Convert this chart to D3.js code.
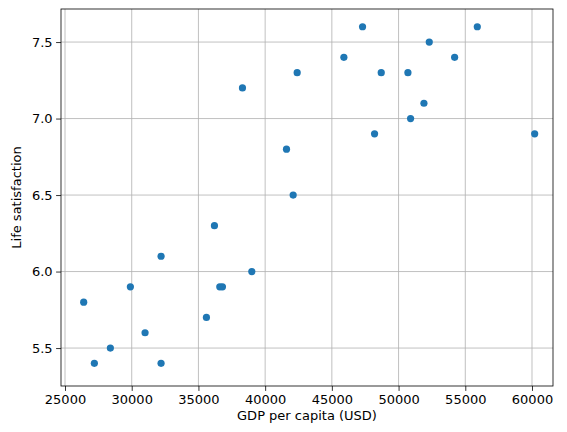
<!DOCTYPE html>
<html><head><meta charset="utf-8">
<script src="https://cdn.jsdelivr.net/npm/d3@7"></script>
<style>body{margin:0;background:#fff}svg{font-family:"DejaVu Sans",sans-serif}</style>
</head><body><svg id="c" width="567" height="432"></svg>
<script>
const gdp=[26400,27200,28400,29900,31000,32200,32200,35600,36200,36600,36800,38300,39000,41600,42100,42400,45900,47300,48200,48700,50700,50900,51900,52300,54200,55900,60200];
const life=[5.8,5.4,5.5,5.9,5.6,5.4,6.1,5.7,6.3,5.9,5.9,7.2,6.0,6.8,6.5,7.3,7.4,7.6,6.9,7.3,7.3,7.0,7.1,7.5,7.4,7.6,6.9];
const xTicks=[25000,30000,35000,40000,45000,50000,55000,60000];
const yTicks=[5.5,6.0,6.5,7.0,7.5];
const L=61,R=553,T=9,B=386;
const svg=d3.select("#c");
const x=d3.scaleLinear().domain([24700,61574]).range([L,R]);
const y=d3.scaleLinear().domain([5.252,7.716]).range([B,T]);
const g=svg.append("g");
xTicks.forEach(t=>g.append("line").attr("x1",x(t)).attr("x2",x(t)).attr("y1",T).attr("y2",B).attr("stroke","#b0b0b0").attr("stroke-width",0.8));
yTicks.forEach(t=>g.append("line").attr("y1",y(t)).attr("y2",y(t)).attr("x1",L).attr("x2",R).attr("stroke","#b0b0b0").attr("stroke-width",0.8));
svg.append("g").selectAll("circle").data(gdp).join("circle").attr("cx",d=>x(d)).attr("cy",(d,i)=>y(life[i])).attr("r",3.6).attr("fill","#1f77b4");
const xa=svg.append("g").attr("transform",`translate(0,${B})`).call(d3.axisBottom(x).tickValues(xTicks).tickFormat(d3.format("d")).tickSize(4.9).tickPadding(3.5));
const ya=svg.append("g").attr("transform",`translate(${L},0)`).call(d3.axisLeft(y).tickValues(yTicks).tickFormat(d3.format(".1f")).tickSize(4.9).tickPadding(3.5));
[xa,ya].forEach(a=>{a.select(".domain").remove();a.selectAll("text").attr("font-size",13).attr("fill","#000").attr("font-family","DejaVu Sans");a.selectAll("line").attr("stroke","#000").attr("stroke-width",0.8);});
svg.append("rect").attr("x",L).attr("y",T).attr("width",R-L).attr("height",B-T).attr("fill","none").attr("stroke","#000").attr("stroke-width",0.8);
svg.append("text").attr("x",(L+R)/2).attr("y",420).attr("text-anchor","middle").attr("font-size",13).text("GDP per capita (USD)");
svg.append("text").attr("transform",`translate(21,${(T+B)/2}) rotate(-90)`).attr("text-anchor","middle").attr("font-size",13).text("Life satisfaction");
</script></body></html>
